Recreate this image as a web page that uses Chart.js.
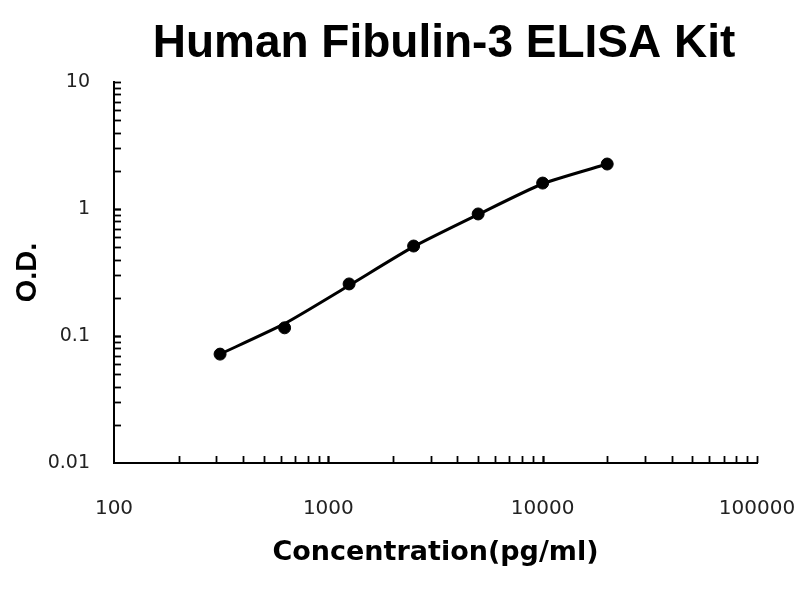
<!DOCTYPE html>
<html>
<head>
<meta charset="utf-8">
<title>Human Fibulin-3 ELISA Kit</title>
<script src="https://cdn.jsdelivr.net/npm/chart.js@4.4.1/dist/chart.umd.min.js"></script>
<style>
  html, body { margin: 0; padding: 0; background: #fff; }
  #chart { display: block; }
</style>
</head>
<body>
<canvas id="chart" width="800" height="600"></canvas>
<script>
// standard curve data
const concentrations = [312.5, 625, 1250, 2500, 5000, 10000, 20000]  // pg/ml
const odMeasured = [0.072, 0.116, 0.257, 0.511, 0.914, 1.60, 2.26]
const odFitted = [0.072, 0.125, 0.250, 0.505, 0.905, 1.58, 2.26]   // where the fit line passes

const xTickValues = [100, 1000, 10000, 100000]
const yTickValues = [0.01, 0.1, 1, 10]

const chartTitle = 'Human Fibulin-3 ELISA Kit'

// draws the title and the small inward log ticks
const extrasPlugin = {
    id: 'extras',
    afterDraw(chart) {
        const ctx = chart.ctx
        const xs = chart.scales.x
        const ys = chart.scales.y
        const area = chart.chartArea

        ctx.save()
        ctx.strokeStyle = '#000'
        ctx.lineWidth = 1.8

        // y axis minor ticks, pointing right
        for (let d = 0.01; d < 10; d *= 10) {
            for (let k = 1; k <= 10; k++) {
                const v = d * k
                if (v <= 0.0100001) continue
                const py = Math.round(ys.getPixelForValue(v)) + 0.5
                ctx.beginPath()
                ctx.moveTo(area.left, py)
                ctx.lineTo(area.left + 7, py)
                ctx.stroke()
            }
        }
        // x axis minor ticks, pointing up
        for (let d = 100; d < 100000; d *= 10) {
            for (let k = 1; k <= 10; k++) {
                const v = d * k
                if (v <= 100.0001) continue
                const px = Math.round(xs.getPixelForValue(v)) + 0.5
                ctx.beginPath()
                ctx.moveTo(px, area.bottom)
                ctx.lineTo(px, area.bottom - 7)
                ctx.stroke()
            }
        }

        // title
        ctx.fillStyle = '#000'
        ctx.font = 'bold 46px "Liberation Sans", Arial, sans-serif'
        ctx.textAlign = 'center'
        ctx.textBaseline = 'alphabetic'
        ctx.fillText(chartTitle, 444, 57)
        ctx.restore()
    }
}

var context = document.getElementById('chart').getContext('2d')
new Chart(context, {
    type: 'line',
    data: {
        datasets: [{
            label: 'Fit',
            data: concentrations.map((c, i) => ({ x: c, y: odFitted[i] })),
            borderColor: '#000',
            borderWidth: 3,
            pointRadius: 0,
            tension: 0.2,
            fill: false,
            order: 2
        }, {
            label: 'O.D.',
            data: concentrations.map((c, i) => ({ x: c, y: odMeasured[i] })),
            showLine: false,
            pointRadius: 6,
            pointBackgroundColor: '#000',
            pointBorderColor: '#000',
            order: 1
        }]
    },
    options: {
        responsive: false,
        animation: false,
        devicePixelRatio: 1,
        layout: {
            padding: { top: 82, right: 43, bottom: 0, left: 0 }
        },
        plugins: {
            legend: { display: false },
            tooltip: { enabled: false }
        },
        scales: {
            x: {
                type: 'logarithmic',
                min: 100,
                max: 100000,
                afterBuildTicks: (scale) => { scale.ticks = xTickValues.map(v => ({ value: v })) },
                afterFit: (scale) => {
                    scale.height = 137
                    scale.paddingLeft = 0   // let layout.padding decide the plot edges
                    scale.paddingRight = 0
                },
                grid: { display: false, drawTicks: false },
                border: { display: true, color: '#000', width: 2 },
                ticks: {
                    autoSkip: false,
                    maxRotation: 0,
                    padding: 34,
                    color: '#222',
                    font: { family: '"DejaVu Sans", sans-serif', size: 20 },
                    callback: (v) => String(v)
                },
                title: {
                    display: true,
                    text: 'Concentration(pg/ml)',
                    color: '#000',
                    font: { family: '"DejaVu Sans", sans-serif', size: 27, weight: 'bold' },
                    padding: { top: 0, bottom: 31 }
                }
            },
            y: {
                type: 'logarithmic',
                min: 0.01,
                max: 10,
                afterBuildTicks: (scale) => { scale.ticks = yTickValues.map(v => ({ value: v })) },
                afterFit: (scale) => {
                    scale.width = 114
                    scale.paddingTop = 0
                    scale.paddingBottom = 0
                },
                grid: { display: false, drawTicks: false },
                border: { display: true, color: '#000', width: 2 },
                ticks: {
                    autoSkip: false,
                    padding: 24,
                    color: '#222',
                    font: { family: '"DejaVu Sans", sans-serif', size: 19 },
                    callback: (v) => String(v)
                },
                title: {
                    display: true,
                    text: 'O.D.',
                    color: '#000',
                    font: { family: '"Liberation Sans", Arial, sans-serif', size: 29, weight: 'bold' },
                    padding: { top: 11, bottom: 0 }
                }
            }
        }
    },
    plugins: [extrasPlugin]
})
</script>
</body>
</html>
